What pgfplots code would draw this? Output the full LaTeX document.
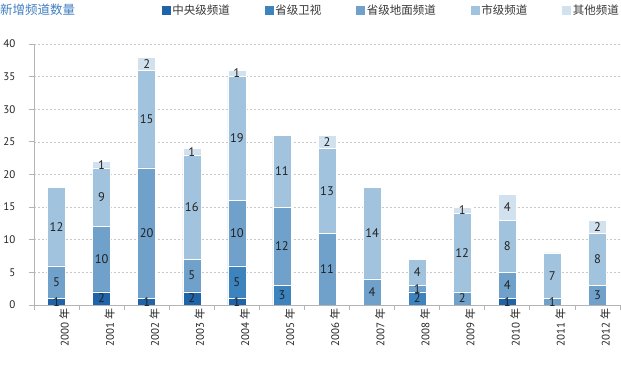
\documentclass[border=0pt]{standalone}
\usepackage{pgfplots}
\pgfplotsset{compat=1.18}
\usepackage{pgfplotstable}
\usepackage{fontspec}
\setmainfont{PT Sans}
\newfontfamily\cjk{Noto Sans CJK SC}
\definecolor{c1}{HTML}{1F64A8}
\definecolor{c2}{HTML}{3D84BF}
\definecolor{c3}{HTML}{6FA1CB}
\definecolor{c4}{HTML}{A2C3DE}
\definecolor{c5}{HTML}{D2E1EE}
\definecolor{ttl}{HTML}{3F7FBF}
\definecolor{gridc}{HTML}{C8C8C8}
\definecolor{axc}{HTML}{B4B4B4}
\definecolor{txt}{HTML}{222222}
\pgfplotsset{
  base/.style={
    scale only axis, width=586pt, height=261pt,
    xmin=-0.5, xmax=12.5, ymin=0, ymax=40,
    at={(34pt,61pt)}, anchor=south west,
  },
  lbl/.style={draw=none, forget plot, point meta=explicit,
     nodes near coords={\pgfmathfloatifflags{\pgfplotspointmeta}{0}{}{\pgfmathprintnumber{\pgfplotspointmeta}}},
     nodes near coords align=center,
     every node near coord/.append style={anchor=center, font=\fontsize{12.5}{13}\selectfont, text=txt, inner sep=0pt}},
}
\pgfplotstableread{
i a b c d e
0 1 0 5 12 0
1 2 0 10 9 1
2 1 0 20 15 2
3 2 0 5 16 1
4 1 5 10 19 1
5 0 3 12 11 0
6 0 0 11 13 2
7 0 0 4 14 0
8 0 2 1 4 0
9 0 0 2 12 1
10 1 0 4 8 4
11 0 0 1 7 0
12 0 0 3 8 2
}\data
\begin{document}
\begin{tikzpicture}
\path[use as bounding box] (0,0) rectangle (621pt,366pt);
\begin{axis}[base, ybar stacked, bar width=18pt,
  axis x line*=bottom, axis y line*=left,
  axis line style={axc, line width=0.8pt},
  ymajorgrids, grid style={gridc, dash pattern=on 2pt off 2pt, line width=0.5pt},
  ytick={0,5,...,40},
  xtick={-0.5,0.5,...,12.5}, xticklabels={},
  extra x ticks={0,1,...,12},
  extra x tick labels={2000 {\cjk 年},2001 {\cjk 年},2002 {\cjk 年},2003 {\cjk 年},2004 {\cjk 年},2005 {\cjk 年},2006 {\cjk 年},2007 {\cjk 年},2008 {\cjk 年},2009 {\cjk 年},2010 {\cjk 年},2011 {\cjk 年},2012 {\cjk 年}},
  extra x tick style={major tick length=0pt, grid=none},
  tick align=outside, major tick length=5pt,
  tick style={axc, line width=0.8pt},
  /pgf/number format/assume math mode=true,
  yticklabel style={font=\fontsize{11}{12}\selectfont, text=txt, anchor=east, xshift=-10pt},
  xticklabel style={font=\fontsize{11}{12}\selectfont, text=txt, rotate=90, anchor=east, yshift=-8pt},
  legend columns=5, legend cell align=left,
  legend style={at={(1.0017,1.130)}, anchor=east, draw=none, fill=none, inner sep=0pt,
    font=\cjk\fontsize{11.5}{13}\selectfont, text=txt!90,
    /tikz/every even column/.append style={column sep=33pt}},
]
\addplot[fill=c1, draw=white, line width=0.5pt, legend image code/.code={\fill[c1] (0pt,-4pt) rectangle (8pt,4pt);}] table[x=i, y=a] {\data};
\addplot[fill=c2, draw=white, line width=0.5pt, legend image code/.code={\fill[c2] (0pt,-4pt) rectangle (8pt,4pt);}] table[x=i, y=b] {\data};
\addplot[fill=c3, draw=white, line width=0.5pt, legend image code/.code={\fill[c3] (0pt,-4pt) rectangle (8pt,4pt);}] table[x=i, y=c] {\data};
\addplot[fill=c4, draw=white, line width=0.5pt, legend image code/.code={\fill[c4] (0pt,-4pt) rectangle (8pt,4pt);}] table[x=i, y=d] {\data};
\addplot[fill=c5, draw=white, line width=0.5pt, legend image code/.code={\fill[c5] (0pt,-4pt) rectangle (8pt,4pt);}] table[x=i, y=e] {\data};
\legend{中央级频道,省级卫视,省级地面频道,市级频道,其他频道}
\end{axis}
\begin{axis}[base, hide axis, clip=false, /pgf/number format/assume math mode=true]
\addplot[lbl] table[x=i, y expr=\thisrow{a}/2, meta=a] {\data};
\addplot[lbl] table[x=i, y expr=\thisrow{a}+\thisrow{b}/2, meta=b] {\data};
\addplot[lbl] table[x=i, y expr=\thisrow{a}+\thisrow{b}+\thisrow{c}/2, meta=c] {\data};
\addplot[lbl] table[x=i, y expr=\thisrow{a}+\thisrow{b}+\thisrow{c}+\thisrow{d}/2, meta=d] {\data};
\addplot[lbl] table[x=i, y expr=\thisrow{a}+\thisrow{b}+\thisrow{c}+\thisrow{d}+\thisrow{e}/2, meta=e] {\data};
\end{axis}
\node[anchor=west, text=ttl, font=\cjk\fontsize{12.5}{14}\selectfont, inner sep=0pt] at (0pt,356pt) {新增频道数量};
\end{tikzpicture}
\end{document}
